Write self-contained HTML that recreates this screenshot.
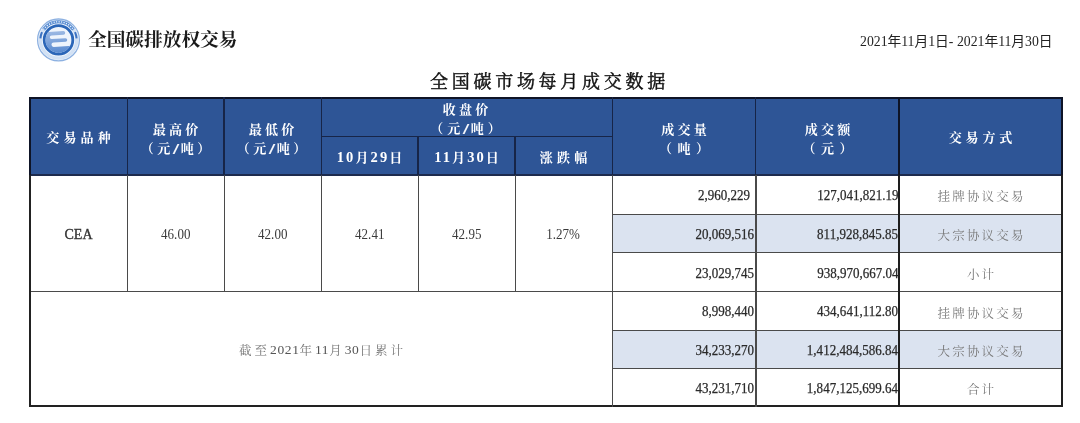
<!DOCTYPE html>
<html lang="zh-CN">
<head>
<meta charset="utf-8">
<title>全国碳市场每月成交数据</title>
<style>
html,body{margin:0;padding:0;background:#fff;}
body{width:1080px;height:423px;overflow:hidden;position:relative;font-family:"Liberation Serif","Noto Serif CJK SC",serif;}
.a{position:absolute;}
.c{position:absolute;display:flex;align-items:center;justify-content:center;text-align:center;white-space:nowrap;}
.r{position:absolute;display:flex;align-items:center;justify-content:flex-end;white-space:nowrap;}
.hl{position:absolute;background:#4a4a4a;}
.hd{color:#fff;font-family:"Liberation Serif","Noto Serif CJK SC",serif;font-weight:700;font-size:13px;line-height:18.6px;box-sizing:border-box;padding-top:6px;}
.num{font-family:"Liberation Serif",serif;font-size:14px;color:#2a2a2a;-webkit-text-stroke:0.25px #2a2a2a;box-sizing:border-box;padding-top:2.5px;}
.s{display:inline-block;transform:scaleX(.93);}
.sl{display:inline-block;width:1.5px;height:10px;background:#f4f6fb;transform:skewX(-26deg);vertical-align:-1px;margin:0 4.6px 0 0.6px;}
.hn{font-size:14.5px;}
.d{font-family:"Liberation Serif",serif;font-size:13.5px;letter-spacing:0.6px;color:#555;}
.r .s{transform-origin:100% 50%;}
.c .s{transform-origin:50% 50%;}
.cn{font-family:"Liberation Serif","Noto Serif CJK SC",serif;font-size:12.5px;color:#777;letter-spacing:2.2px;box-sizing:border-box;padding-left:2.2px;padding-top:3px;}
</style>
</head>
<body>
<!-- logo -->
<svg class="a" style="left:0;top:0" width="90" height="70" viewBox="0 0 90 70">
  <defs>
    <clipPath id="inner"><circle cx="58.5" cy="39.9" r="13.0"/></clipPath>
    <linearGradient id="g1" gradientUnits="userSpaceOnUse" x1="0" y1="30" x2="0" y2="54">
      <stop offset="0" stop-color="#9fbbe4"/>
      <stop offset="1" stop-color="#5688cf"/>
    </linearGradient>
  </defs>
  <circle cx="58.5" cy="39.9" r="20.9" fill="#f1f6fc" stroke="#8db1e1" stroke-width="1.3"/>
  <circle cx="58.5" cy="39.9" r="18.2" fill="none" stroke="#d2e1f4" stroke-width="3.2"/>
  <path d="M 43.6 29.5 A 18.2 18.2 0 0 1 73.4 29.5" fill="none" stroke="#5d90d4" stroke-width="3.2"/>
  <path d="M 43.6 29.5 A 18.2 18.2 0 0 1 73.4 29.5" fill="none" stroke="#ffffff" stroke-width="1.3" stroke-dasharray="1 1.5"/>
  <path d="M 42.0 32.2 A 18.2 18.2 0 0 0 40.4 38.3" fill="none" stroke="#3d73c2" stroke-width="2"/>
  <path d="M 75.0 32.2 A 18.2 18.2 0 0 1 76.6 38.3" fill="none" stroke="#3d73c2" stroke-width="2"/>
  <circle cx="58.5" cy="39.9" r="14.3" fill="#eef4fc" stroke="#2b66b8" stroke-width="2.8"/>
  <g clip-path="url(#inner)">
    <path transform="rotate(-3.5 58.5 39.9)" fill="url(#g1)" d="M 40 31.4 L 63.8 31.4 A 1.8 1.8 0 0 1 63.8 35.0 L 51.8 35.0 A 1.8 1.8 0 0 0 51.8 38.6 L 65.4 38.6 A 1.8 1.8 0 0 1 65.4 42.2 L 53.4 42.2 A 2.2 2.2 0 0 0 53.4 46.6 L 80 46.6 L 80 60 L 40 60 Z"/>
  </g>
</svg>
<div class="a" style="left:88px;top:28px;font-family:'Liberation Serif','Noto Serif CJK SC',serif;font-weight:700;font-size:18.7px;line-height:24px;color:#1a1a1a;">全国碳排放权交易</div>
<div class="a" style="left:860px;top:34px;font-family:'Liberation Serif','Noto Sans CJK SC',sans-serif;font-size:13.75px;line-height:16px;color:#222;">2021年11月1日- 2021年11月30日</div>
<div class="a" style="left:430px;top:70px;font-family:'Liberation Serif','Noto Serif CJK SC',serif;font-weight:400;-webkit-text-stroke:0.45px #111;font-size:18px;line-height:24px;letter-spacing:3.72px;color:#111;">全国碳市场每月成交数据</div>

<!-- header background -->
<div class="a" style="left:29px;top:97px;width:1034px;height:78px;background:#2e5596;"></div>
<!-- light blue rows -->
<div class="a" style="left:612px;top:214px;width:450px;height:39px;background:#dbe3f0;"></div>
<div class="a" style="left:612px;top:330px;width:450px;height:39px;background:#dbe3f0;"></div>

<!-- horizontal lines -->
<div class="hl" style="left:29px;top:97px;width:1034px;height:1.8px;background:#0e1426;"></div>
<div class="hl" style="left:321px;top:135.8px;width:291px;height:1.2px;background:#172548;"></div>
<div class="hl" style="left:29px;top:174.4px;width:1034px;height:1.3px;background:#1d2b4d;"></div>
<div class="hl" style="left:612px;top:213.5px;width:450px;height:1.4px;"></div>
<div class="hl" style="left:612px;top:252px;width:450px;height:1.4px;"></div>
<div class="hl" style="left:29px;top:290.5px;width:1034px;height:1.4px;"></div>
<div class="hl" style="left:612px;top:329.5px;width:450px;height:1.4px;"></div>
<div class="hl" style="left:612px;top:368px;width:450px;height:1.4px;"></div>
<div class="hl" style="left:29px;top:405.2px;width:1034px;height:2.2px;background:#222;"></div>
<!-- vertical lines: header part -->
<div class="hl" style="left:29px;top:97px;width:2px;height:78px;background:#0e1426;"></div>
<div class="hl" style="left:126.5px;top:97px;width:1.3px;height:78px;background:#172548;"></div>
<div class="hl" style="left:223.4px;top:97px;width:1.4px;height:78px;background:#172548;"></div>
<div class="hl" style="left:320.6px;top:97px;width:1.4px;height:78px;background:#172548;"></div>
<div class="hl" style="left:417.4px;top:136px;width:1.4px;height:39px;background:#172548;"></div>
<div class="hl" style="left:514.4px;top:136px;width:1.4px;height:39px;background:#172548;"></div>
<div class="hl" style="left:611.6px;top:97px;width:1.4px;height:78px;background:#172548;"></div>
<div class="hl" style="left:755px;top:97px;width:1.3px;height:78px;background:#162447;"></div>
<div class="hl" style="left:898px;top:97px;width:2px;height:78px;background:#0e1426;"></div>
<div class="hl" style="left:1061px;top:97px;width:2px;height:78px;background:#0e1426;"></div>
<!-- vertical lines: body part -->
<div class="hl" style="left:29px;top:175px;width:2px;height:232px;background:#222;"></div>
<div class="hl" style="left:126.5px;top:175px;width:1.2px;height:116px;"></div>
<div class="hl" style="left:223.5px;top:175px;width:1.2px;height:116px;"></div>
<div class="hl" style="left:320.8px;top:175px;width:1.2px;height:116px;"></div>
<div class="hl" style="left:417.5px;top:175px;width:1.2px;height:116px;"></div>
<div class="hl" style="left:514.5px;top:175px;width:1.2px;height:116px;"></div>
<div class="hl" style="left:611.6px;top:175px;width:1.4px;height:232px;"></div>
<div class="hl" style="left:755px;top:175px;width:1.5px;height:232px;"></div>
<div class="hl" style="left:898.2px;top:175px;width:2px;height:232px;background:#1e1e1e;"></div>
<div class="hl" style="left:1061px;top:175px;width:2px;height:232px;background:#1e1e1e;"></div>

<!-- header text -->
<div class="c hd" style="left:31px;top:97px;width:95px;height:76px;"><div><span style="letter-spacing:4.1px;margin-right:-4.1px">交易品种</span></div></div>
<div class="c hd" style="left:127px;top:99px;width:97px;height:76px;"><div><span style="letter-spacing:3.2px;margin-right:-3.2px">最高价</span><br><span style="letter-spacing:3.6px;margin-right:-3.6px">（元<span class="sl"></span>吨）</span></div></div>
<div class="c hd" style="left:223px;top:99px;width:97px;height:76px;"><div><span style="letter-spacing:3.2px;margin-right:-3.2px">最低价</span><br><span style="letter-spacing:3.6px;margin-right:-3.6px">（元<span class="sl"></span>吨）</span></div></div>
<div class="c hd" style="left:320px;top:98.5px;width:291px;height:37px;"><div><span style="letter-spacing:3.2px;margin-right:-3.2px">收盘价</span><br><span style="letter-spacing:4.0px;margin-right:-4.0px">（元<span class="sl"></span>吨）</span></div></div>
<div class="c hd" style="left:321px;top:135.8px;width:97px;height:37px;"><div><span style="letter-spacing:2.1px;margin-right:-2.1px"><span class="hn">10</span>月<span class="hn">29</span>日</span></div></div>
<div class="c hd" style="left:418px;top:135.8px;width:97px;height:37px;"><div><span style="letter-spacing:2.1px;margin-right:-2.1px"><span class="hn">11</span>月<span class="hn">30</span>日</span></div></div>
<div class="c hd" style="left:515px;top:137px;width:97px;height:37px;"><div><span style="letter-spacing:4.2px;margin-right:-4.2px">涨跌幅</span></div></div>
<div class="c hd" style="left:612px;top:99px;width:144px;height:76px;"><div><span style="letter-spacing:3.2px;margin-right:-3.2px">成交量</span><br><span style="letter-spacing:5.5px;margin-right:-5.5px">（吨）</span></div></div>
<div class="c hd" style="left:756px;top:99px;width:143px;height:76px;"><div><span style="letter-spacing:3.2px;margin-right:-3.2px">成交额</span><br><span style="letter-spacing:5.5px;margin-right:-5.5px">（元）</span></div></div>
<div class="c hd" style="left:900px;top:97px;width:161px;height:76px;"><div><span style="letter-spacing:3.9px;margin-right:-3.9px">交易方式</span></div></div>

<!-- body rows 1-3 -->
<div class="c num" style="left:31px;top:175px;width:95px;height:116px;font-size:14px;font-weight:400;padding-top:4.5px;color:#333;-webkit-text-stroke:0.35px #333;">CEA</div>
<div class="c num" style="left:127px;top:175px;width:97px;height:116px;padding-top:3px;color:#3a3a3a;-webkit-text-stroke:0;"><span class="s">46.00</span></div>
<div class="c num" style="left:224px;top:175px;width:97px;height:116px;padding-top:3px;color:#3a3a3a;-webkit-text-stroke:0;"><span class="s">42.00</span></div>
<div class="c num" style="left:321px;top:175px;width:97px;height:116px;padding-top:3px;color:#3a3a3a;-webkit-text-stroke:0;"><span class="s">42.41</span></div>
<div class="c num" style="left:418px;top:175px;width:97px;height:116px;padding-top:3px;color:#3a3a3a;-webkit-text-stroke:0;"><span class="s">42.95</span></div>
<div class="c num" style="left:515px;top:175px;width:97px;height:116px;padding-top:3px;color:#3a3a3a;-webkit-text-stroke:0;"><span class="s">1.27%</span></div>

<div class="r num" style="left:612px;top:175px;width:138px;height:39px;"><span class="s">2,960,229</span></div>
<div class="r num" style="left:756px;top:175px;width:142px;height:39px;"><span class="s">127,041,821.19</span></div>
<div class="c cn" style="left:900px;top:175px;width:161px;height:39px;">挂牌协议交易</div>
<div class="r num" style="left:612px;top:214px;width:142px;height:39px;"><span class="s">20,069,516</span></div>
<div class="r num" style="left:756px;top:214px;width:142px;height:39px;"><span class="s">811,928,845.85</span></div>
<div class="c cn" style="left:900px;top:214px;width:161px;height:39px;">大宗协议交易</div>
<div class="r num" style="left:612px;top:253px;width:142px;height:38px;padding-top:3.5px;"><span class="s">23,029,745</span></div>
<div class="r num" style="left:756px;top:253px;width:142px;height:38px;padding-top:3.5px;"><span class="s">938,970,667.04</span></div>
<div class="c cn" style="left:900px;top:253px;width:161px;height:38px;">小计</div>

<!-- body rows 4-6 -->
<div class="c cn" style="left:31px;top:292px;width:580px;height:113px;letter-spacing:3px;padding-left:3px;">截至<span class="d">2021</span>年<span class="d">11</span>月<span class="d">30</span>日累计</div>
<div class="r num" style="left:612px;top:292px;width:142px;height:38px;"><span class="s">8,998,440</span></div>
<div class="r num" style="left:756px;top:292px;width:142px;height:38px;"><span class="s">434,641,112.80</span></div>
<div class="c cn" style="left:900px;top:292px;width:161px;height:38px;">挂牌协议交易</div>
<div class="r num" style="left:612px;top:330px;width:142px;height:39px;"><span class="s">34,233,270</span></div>
<div class="r num" style="left:756px;top:330px;width:142px;height:39px;"><span class="s">1,412,484,586.84</span></div>
<div class="c cn" style="left:900px;top:330px;width:161px;height:39px;">大宗协议交易</div>
<div class="r num" style="left:612px;top:369px;width:142px;height:36px;padding-top:4.5px;"><span class="s">43,231,710</span></div>
<div class="r num" style="left:756px;top:369px;width:142px;height:36px;padding-top:4.5px;"><span class="s">1,847,125,699.64</span></div>
<div class="c cn" style="left:900px;top:369px;width:161px;height:36px;">合计</div>
</body>
</html>
